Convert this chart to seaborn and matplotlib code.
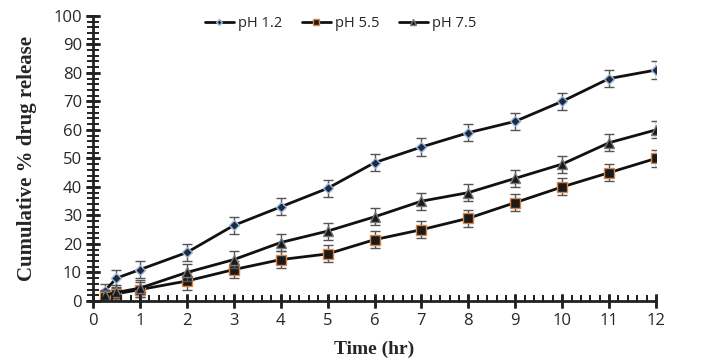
import matplotlib
matplotlib.use("Agg")
import matplotlib.pyplot as plt
import matplotlib.transforms as mtransforms
import seaborn as sns
import pandas as pd
from matplotlib.ticker import MultipleLocator

time_hr = [0.25, 0.5, 1, 2, 3, 4, 5, 6, 7, 8, 9, 10, 11, 12]
ph12 = [3.5, 8, 11, 17, 26.5, 33, 39.5, 48.5, 54, 59, 63, 70, 78, 81]
ph55 = [1.5, 2.5, 4, 7, 11, 14.5, 16.5, 21.5, 25, 29, 34.5, 40, 45, 50]
ph75 = [2, 3, 4.5, 10, 14.5, 20.5, 24.5, 29.5, 35, 38, 43, 48, 55.5, 60]
err12 = [2.5, 3, 3, 3, 3, 3, 3, 3, 3, 3, 3, 3, 3, 3]
err55 = [2, 2, 2.5, 3, 3, 3, 3, 3, 3, 3, 3, 3, 3, 3]
err75 = [2, 2.5, 3, 3, 3, 3, 3, 3, 3, 3, 3, 3, 3, 3]
series_names = ["pH 1.2", "pH 5.5", "pH 7.5"]

sns.set_style("ticks")
fig, ax = plt.subplots(figsize=(7.02, 3.6), dpi=100)
fig.subplots_adjust(left=0.1325, right=0.9345, bottom=0.164, top=0.956)

styles = [
    dict(marker="D", ms=5, mfc="#1c2a44", mec="#9db8d8"),
    dict(marker="s", ms=7, mfc="#1a1a1a", mec="#d9864a"),
    dict(marker="^", ms=7, mfc="#1a1a1a", mec="#777777"),
]
for name, vals, errs, st in zip(series_names, [ph12, ph55, ph75], [err12, err55, err75], styles):
    df = pd.DataFrame({"Time": time_hr, "Release": vals})
    ax.errorbar(df["Time"], df["Release"], yerr=errs, fmt="none", ecolor="#555555",
                elinewidth=1, capsize=3.5, capthick=1)
    sns.lineplot(data=df, x="Time", y="Release", ax=ax, color="#111111", linewidth=2,
                 marker=st["marker"], markersize=st["ms"], markerfacecolor=st["mfc"],
                 markeredgecolor=st["mec"], markeredgewidth=1, label=name)

ax.set_xlim(0, 12)
ax.set_ylim(0, 100)
xmaj, xmin = MultipleLocator(1), MultipleLocator(0.2)
ymaj, ymin = MultipleLocator(10), MultipleLocator(2)
ax.xaxis.set_major_locator(xmaj)
ax.xaxis.set_minor_locator(xmin)
ax.yaxis.set_major_locator(ymaj)
ax.yaxis.set_minor_locator(ymin)
ax.tick_params(axis="both", which="minor", direction="in", length=4.5, width=1.4,
               bottom=True, left=True, color="#222222")
ax.tick_params(axis="both", which="major", direction="inout", length=10, width=1.8,
               bottom=True, left=True, color="#222222", labelsize=12)
ax.tick_params(axis="x", pad=4)
ax.tick_params(axis="y", pad=3)
for lab in ax.get_xticklabels() + ax.get_yticklabels():
    lab.set_fontfamily("Open Sans")

# explicit tick marks taken from the axis locators (drawn as markers on the spines)
bx = mtransforms.blended_transform_factory(ax.transData, ax.transAxes)
by = mtransforms.blended_transform_factory(ax.transAxes, ax.transData)
xt_major = [v for v in xmaj.tick_values(0, 12) if 0 <= v <= 12]
xt_minor = [v for v in xmin.tick_values(0, 12) if 0 <= v <= 12]
yt_major = [v for v in ymaj.tick_values(0, 100) if 0 <= v <= 100]
yt_minor = [v for v in ymin.tick_values(0, 100) if 0 <= v <= 100]
tk = dict(ls="none", color="#222222", clip_on=False, zorder=5)
ax.plot(xt_major, [0] * len(xt_major), transform=bx, marker="|", ms=10, mew=1.8, **tk)
ax.plot(xt_minor, [0] * len(xt_minor), transform=bx, marker=2, ms=4.5, mew=1.4, **tk)
ax.plot([0] * len(yt_major), yt_major, transform=by, marker="_", ms=10, mew=1.8, **tk)
ax.plot([0] * len(yt_minor), yt_minor, transform=by, marker=0, ms=4.5, mew=1.4, **tk)

for s in ["top", "right"]:
    ax.spines[s].set_visible(False)
for s in ["left", "bottom"]:
    ax.spines[s].set_linewidth(2)
    ax.spines[s].set_color("#222222")

ax.set_xlabel("Time (hr)", fontfamily="Liberation Serif", fontweight="bold", fontsize=14, labelpad=8)
ax.set_ylabel("Cumulative % drug release", fontfamily="Liberation Serif", fontweight="bold",
              fontsize=15, labelpad=12)

handles, labels = ax.get_legend_handles_labels()
n = len(series_names)
ax.legend(handles[-n:], labels[-n:], loc="upper center", bbox_to_anchor=(0.44, 1.045), ncol=3,
          frameon=False, prop={"family": "Open Sans", "size": 10.5}, handlelength=2.0,
          handletextpad=0.3, columnspacing=1.3, markerscale=0.6)

fig.savefig("out.png", dpi=100)
